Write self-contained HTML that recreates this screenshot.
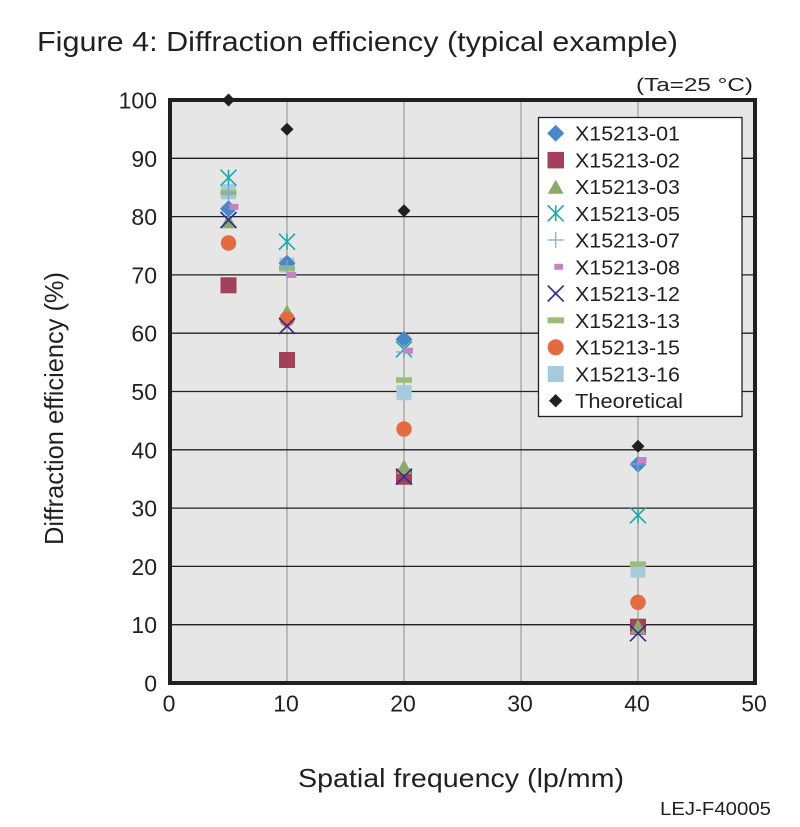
<!DOCTYPE html>
<html>
<head>
<meta charset="utf-8">
<style>
html,body{margin:0;padding:0;background:#fff;}
svg{display:block;}
text{font-family:"Liberation Sans",Arial,sans-serif;fill:#231f20;}
</style>
</head>
<body>
<svg width="800" height="827" viewBox="0 0 800 827" xmlns="http://www.w3.org/2000/svg">
<rect x="0" y="0" width="800" height="827" fill="#fff"/>
<text x="37" y="51" font-size="27.5" textLength="641" lengthAdjust="spacingAndGlyphs">Figure 4: Diffraction efficiency (typical example)</text>
<text x="636" y="91" font-size="18" textLength="117" lengthAdjust="spacingAndGlyphs">(Ta=25 °C)</text>

<!-- plot area -->
<rect x="170" y="100" width="585" height="583" fill="#e6e6e6"/>
<g stroke="#8c8c8c" stroke-width="1">
<line x1="287" y1="100" x2="287" y2="683"/>
<line x1="404" y1="100" x2="404" y2="683"/>
<line x1="521" y1="100" x2="521" y2="683"/>
<line x1="638" y1="100" x2="638" y2="683"/>
</g>
<g stroke="#231f20" stroke-width="1.3">
<line x1="170" y1="158.3" x2="755" y2="158.3"/>
<line x1="170" y1="216.6" x2="755" y2="216.6"/>
<line x1="170" y1="274.9" x2="755" y2="274.9"/>
<line x1="170" y1="333.2" x2="755" y2="333.2"/>
<line x1="170" y1="391.5" x2="755" y2="391.5"/>
<line x1="170" y1="449.8" x2="755" y2="449.8"/>
<line x1="170" y1="508.1" x2="755" y2="508.1"/>
<line x1="170" y1="566.4" x2="755" y2="566.4"/>
<line x1="170" y1="624.7" x2="755" y2="624.7"/>
</g>

<!-- y tick labels -->
<g font-size="23" text-anchor="end">
<text x="157" y="108.5">100</text>
<text x="157" y="166.8">90</text>
<text x="157" y="225.1">80</text>
<text x="157" y="283.4">70</text>
<text x="157" y="341.7">60</text>
<text x="157" y="400">50</text>
<text x="157" y="458.3">40</text>
<text x="157" y="516.6">30</text>
<text x="157" y="574.9">20</text>
<text x="157" y="633.2">10</text>
<text x="157" y="691.5">0</text>
</g>
<!-- x tick labels -->
<g font-size="23" text-anchor="middle">
<text x="169" y="711.5">0</text>
<text x="286" y="711.5">10</text>
<text x="403" y="711.5">20</text>
<text x="520" y="711.5">30</text>
<text x="637" y="711.5">40</text>
<text x="754" y="711.5">50</text>
</g>

<text x="298" y="787" font-size="26" textLength="326" lengthAdjust="spacingAndGlyphs">Spatial frequency (lp/mm)</text>
<text transform="translate(63,545) rotate(-90)" font-size="26" textLength="273" lengthAdjust="spacingAndGlyphs">Diffraction efficiency (%)</text>
<text x="660" y="815" font-size="18" textLength="111" lengthAdjust="spacingAndGlyphs">LEJ-F40005</text>

<!-- data -->
<g fill="#a4cadc">
<rect x="221" y="184.2" width="15" height="15"/>
<rect x="279.5" y="257.5" width="15" height="15"/>
<rect x="396.5" y="385.2" width="15" height="15"/>
<rect x="630.5" y="562.5" width="15" height="15"/>
</g>
<g fill="#a3405c">
<rect x="220.5" y="277.3" width="16" height="16"/>
<rect x="279" y="352" width="16" height="16"/>
<rect x="396" y="468.7" width="16" height="16"/>
<rect x="630" y="618.7" width="16" height="16"/>
</g>
<g fill="#8aaa6a">
<polygon points="228.5,213.5 236.5,228.3 220.5,228.3"/>
<polygon points="287,304.3 295,319.3 279,319.3"/>
<polygon points="404,459.3 412,474 396,474"/>
<polygon points="638,619 646,634 630,634"/>
</g>
<g fill="#4a86c8">
<polygon points="228.5,200.2 237,208.7 228.5,217.2 220,208.7"/>
<polygon points="287,254.8 295.5,263.3 287,271.8 278.5,263.3"/>
<polygon points="404,330.8 412.5,339.3 404,347.8 395.5,339.3"/>
<polygon points="638,455.8 646.5,464.3 638,472.8 629.5,464.3"/>
</g>
<g fill="#e26b40">
<circle cx="228.5" cy="243" r="7.7"/>
<circle cx="287" cy="319" r="7.7"/>
<circle cx="404" cy="429" r="7.7"/>
<circle cx="638" cy="602.3" r="7.7"/>
</g>
<g fill="#9bbd78">
<rect x="220.5" y="190" width="16" height="5.5"/>
<rect x="279" y="265.5" width="16" height="5.5"/>
<rect x="396" y="377.3" width="16" height="5.5"/>
<rect x="630" y="561.3" width="16" height="5.5"/>
</g>
<g stroke="#2f2f8e" stroke-width="1.6" fill="none">
<path d="M220.5,212 L236.5,228 M236.5,212 L220.5,228"/>
<path d="M279,318 L295,334 M295,318 L279,334"/>
<path d="M396,468.7 L412,484.7 M412,468.7 L396,484.7"/>
<path d="M630,625.3 L646,641.3 M646,625.3 L630,641.3"/>
</g>
<g stroke="#1ea8a8" stroke-width="1.6" fill="none">
<path d="M220.5,169.7 L236.5,185.7 M236.5,169.7 L220.5,185.7 M228.5,169.7 L228.5,185.7"/>
<path d="M279,233.7 L295,249.7 M295,233.7 L279,249.7 M287,233.7 L287,249.7"/>
<path d="M396,341.3 L412,357.3 M412,341.3 L396,357.3 M404,341.3 L404,357.3"/>
<path d="M630,507.3 L646,523.3 M646,507.3 L630,523.3 M638,507.3 L638,523.3"/>
</g>
<g stroke="#7ea6d6" stroke-width="1.2" fill="none">
<path d="M220.5,193 L236.5,193 M228.5,185 L228.5,201"/>
<path d="M279,268 L295,268 M287,260 L287,276"/>
<path d="M396,352 L412,352 M404,344 L404,360"/>
<path d="M630,464 L646,464 M638,456 L638,472"/>
</g>
<g fill="#c483c3">
<rect x="229.5" y="203.8" width="9" height="6"/>
<rect x="287.3" y="272" width="9" height="6"/>
<rect x="404" y="347.7" width="9" height="6"/>
<rect x="637.5" y="457" width="9" height="6"/>
</g>
<g fill="#231f20">
<polygon points="228.5,93.5 235,100 228.5,106.5 222,100"/>
<polygon points="287,122.7 293.5,129.2 287,135.7 280.5,129.2"/>
<polygon points="404,204.3 410.5,210.8 404,217.3 397.5,210.8"/>
<polygon points="638,439.8 644.5,446.3 638,452.8 631.5,446.3"/>
</g>

<!-- frame -->
<rect x="170" y="100" width="585" height="583" fill="none" stroke="#231f20" stroke-width="4"/>

<!-- legend -->
<rect x="538.5" y="117.5" width="203.5" height="299" fill="#fff" stroke="#231f20" stroke-width="1.3"/>
<polygon points="555.7,124.8 564.2,133.3 555.7,141.8 547.2,133.3" fill="#4a86c8"/>
<rect x="547.5" y="151.9" width="16.5" height="16.5" fill="#a3405c"/>
<polygon points="555.7,179.8 563.7,193.8 547.7,193.8" fill="#8aaa6a"/>
<path d="M547.7,205.3 L563.7,221.3 M563.7,205.3 L547.7,221.3 M555.7,205.3 L555.7,221.3" stroke="#1ea8a8" stroke-width="1.6" fill="none"/>
<path d="M547.7,240 L563.7,240 M555.7,232 L555.7,248" stroke="#7ea6d6" stroke-width="1.2" fill="none"/>
<rect x="554.3" y="263.8" width="8.7" height="6" fill="#c483c3"/>
<path d="M547.7,285.5 L563.7,301.5 M563.7,285.5 L547.7,301.5" stroke="#2f2f8e" stroke-width="1.6" fill="none"/>
<rect x="547.5" y="317.3" width="16.5" height="6" fill="#9bbd78"/>
<circle cx="555.7" cy="347.3" r="8" fill="#e26b40"/>
<rect x="547.7" y="366" width="16" height="16" fill="#a4cadc"/>
<polygon points="555.7,394 562.4,400.7 555.7,407.4 549,400.7" fill="#231f20"/>
<g font-size="20.5">
<text x="575" y="140.5" textLength="105" lengthAdjust="spacingAndGlyphs">X15213-01</text>
<text x="575" y="167.3" textLength="105" lengthAdjust="spacingAndGlyphs">X15213-02</text>
<text x="575" y="194" textLength="105" lengthAdjust="spacingAndGlyphs">X15213-03</text>
<text x="575" y="220.8" textLength="105" lengthAdjust="spacingAndGlyphs">X15213-05</text>
<text x="575" y="247.5" textLength="105" lengthAdjust="spacingAndGlyphs">X15213-07</text>
<text x="575" y="274.3" textLength="105" lengthAdjust="spacingAndGlyphs">X15213-08</text>
<text x="575" y="301" textLength="105" lengthAdjust="spacingAndGlyphs">X15213-12</text>
<text x="575" y="327.8" textLength="105" lengthAdjust="spacingAndGlyphs">X15213-13</text>
<text x="575" y="354.5" textLength="105" lengthAdjust="spacingAndGlyphs">X15213-15</text>
<text x="575" y="381.3" textLength="105" lengthAdjust="spacingAndGlyphs">X15213-16</text>
<text x="575" y="408" textLength="108" lengthAdjust="spacingAndGlyphs">Theoretical</text>
</g>
</svg>
</body>
</html>
